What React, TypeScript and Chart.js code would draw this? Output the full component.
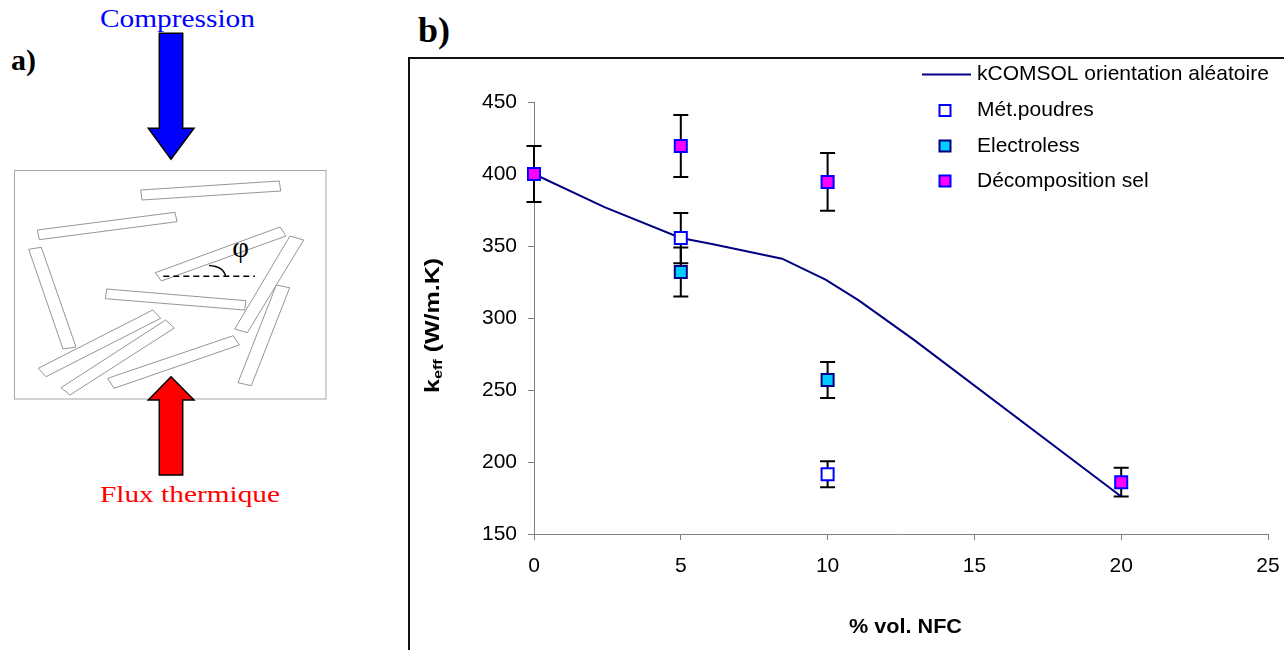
import React, { useEffect, useRef } from "react";
import { Chart, registerables } from "chart.js";

Chart.register(...registerables);

// ---------- Data (part b) ----------
const xTickMin = 0;
const xTickMax = 25;
const xTickStep = 5;
const yTickMin = 150;
const yTickMax = 450;
const yTickStep = 50;

const seriesLabels = [
  "kCOMSOL orientation aléatoire",
  "Mét.poudres",
  "Electroless",
  "Décomposition sel",
];

const comsolX = [0, 2.4, 5, 6.06, 8.45, 9.93, 11.06, 12.93, 20];
const comsolY = [400, 377, 355.6, 351.4, 341.2, 326.6, 312.2, 285, 176];

const poudresX = [5, 10];
const poudresY = [355.5, 191.5];
const poudresErr = [17.5, 9];

const elecX = [5, 10];
const elecY = [332, 257];
const elecErr = [17, 12.5];

const decompX = [0, 5, 10, 20];
const decompY = [400, 419.5, 394.5, 186];
const decompErr = [19.5, 21.5, 20, 10];

const xTitle = "% vol. NFC";

// ---------- Styles ----------
const FF = "'Liberation Sans', Arial, sans-serif";
const NAVY = "#000080";
const BLUE = "#0000FF";
const CYAN = "#00CCFF";
const MAGENTA = "#FF00FF";
const AXIS = "#808080";

const toPts = (xs: number[], ys: number[]) => xs.map((x, i) => ({ x, y: ys[i] }));

// ---------- Plugins ----------
const errorBarPlugin = {
  id: "errorBars",
  beforeDatasetsDraw(chart: any) {
    const { ctx, scales } = chart;
    const xs = scales.x;
    const ys = scales.y;
    ctx.save();
    ctx.strokeStyle = "#000";
    ctx.lineWidth = 2;
    chart.data.datasets.forEach((ds: any) => {
      if (!ds.errors) return;
      ds.data.forEach((p: any, i: number) => {
        const e = ds.errors[i];
        const px = xs.getPixelForValue(p.x);
        const top = ys.getPixelForValue(p.y + e);
        const bot = ys.getPixelForValue(p.y - e);
        ctx.beginPath();
        ctx.moveTo(px, top);
        ctx.lineTo(px, bot);
        ctx.moveTo(px - 7.5, top);
        ctx.lineTo(px + 7.5, top);
        ctx.moveTo(px - 7.5, bot);
        ctx.lineTo(px + 7.5, bot);
        ctx.stroke();
      });
    });
    ctx.restore();
  },
};

const decorPlugin = {
  id: "decor",
  afterDraw(chart: any) {
    const { ctx } = chart;
    const ds = chart.data.datasets;
    ctx.save();
    // ---- Legend ----
    ctx.font = `21px ${FF}`;
    ctx.fillStyle = "#000";
    ctx.textBaseline = "middle";
    ctx.textAlign = "left";
    const textX = 567;
    const rows = [15.5, 51.5, 87, 122];
    ctx.strokeStyle = ds[0].borderColor;
    ctx.lineWidth = 2;
    ctx.beginPath();
    ctx.moveTo(512, rows[0]);
    ctx.lineTo(561, rows[0]);
    ctx.stroke();
    ctx.fillText(ds[0].label, textX, rows[0]);
    for (let i = 1; i < 4; i++) {
      const d = ds[i];
      const cy = rows[i];
      ctx.fillStyle = d.backgroundColor;
      ctx.fillRect(529.5, cy - 5.5, 11, 11);
      ctx.strokeStyle = d.borderColor;
      ctx.lineWidth = 2;
      ctx.strokeRect(529.5, cy - 5.5, 11, 11);
      ctx.fillStyle = "#000";
      ctx.fillText(d.label, textX, cy);
    }

    // ---- Y title: k_eff (W/m.K) ----
    ctx.save();
    ctx.translate(29, 266.5);
    ctx.rotate(-Math.PI / 2);
    const big = `bold 20px ${FF}`;
    const small = `bold 13px ${FF}`;
    ctx.font = big;
    const wk = ctx.measureText("k").width;
    const wr = ctx.measureText(" (W/m.K)").width;
    ctx.font = small;
    const we = ctx.measureText("eff").width;
    const total = wk + we + wr;
    ctx.scale(135 / total, 1);
    let x0 = -total / 2;
    ctx.fillStyle = "#000";
    ctx.textBaseline = "alphabetic";
    ctx.textAlign = "left";
    ctx.font = big;
    ctx.fillText("k", x0, 0);
    x0 += wk;
    ctx.font = small;
    ctx.fillText("eff", x0, 3);
    x0 += we;
    ctx.font = big;
    ctx.fillText(" (W/m.K)", x0, 0);
    ctx.restore();

    // ---- X title ----
    ctx.save();
    ctx.font = `bold 20px ${FF}`;
    const wt = ctx.measureText(xTitle).width;
    ctx.translate(495.5, 574);
    ctx.scale(113 / wt, 1);
    ctx.fillStyle = "#000";
    ctx.textAlign = "center";
    ctx.textBaseline = "alphabetic";
    ctx.fillText(xTitle, 0, 0);
    ctx.restore();

    ctx.restore();
  },
};

// ---------- Schematic (part a) ----------
const fibers: number[][] = [
  [140.7, 190, 279.3, 181, 280.7, 191, 142, 200],
  [37.3, 230, 175, 212.3, 177, 221.7, 39.3, 239.7],
  [28.7, 249.3, 41.3, 247.3, 76, 347, 63, 349],
  [155.3, 272.7, 280, 227, 286, 236, 161.3, 281],
  [106.7, 289, 246, 300.7, 244.7, 310, 105.3, 298.7],
  [290, 236, 303.7, 240, 247.3, 332.7, 234.7, 329],
  [276.3, 285, 289.7, 287.7, 251.3, 385.7, 238, 382.7],
  [38.3, 368.3, 152.7, 310, 160.7, 318.3, 46, 376.7],
  [61, 387.7, 165.7, 320, 174.3, 328, 70, 395],
  [107.7, 378.3, 233.3, 335.7, 239.3, 345, 114, 388.3],
];

const ptsStr = (a: number[]) => {
  const out: string[] = [];
  for (let i = 0; i < a.length; i += 2) out.push(`${a[i]},${a[i + 1]}`);
  return out.join(" ");
};

export default function App() {
  const canvasRef = useRef<HTMLCanvasElement>(null);

  useEffect(() => {
    const canvas = canvasRef.current;
    if (!canvas) return;
    const chart = new Chart(canvas, {
      type: "scatter",
      data: {
        datasets: [
          {
            label: seriesLabels[0],
            data: toPts(comsolX, comsolY),
            showLine: true,
            borderColor: NAVY,
            backgroundColor: NAVY,
            borderWidth: 2,
            pointRadius: 0,
            tension: 0,
            clip: false,
            order: 10,
          } as any,
          {
            label: seriesLabels[1],
            data: toPts(poudresX, poudresY),
            errors: poudresErr,
            pointStyle: "rect",
            pointRadius: 8.5,
            backgroundColor: "#FFFFFF",
            borderColor: BLUE,
            borderWidth: 2,
            clip: false,
            order: 1,
          },
          {
            label: seriesLabels[2],
            data: toPts(elecX, elecY),
            errors: elecErr,
            pointStyle: "rect",
            pointRadius: 8.5,
            backgroundColor: CYAN,
            borderColor: NAVY,
            borderWidth: 2,
            clip: false,
            order: 1,
          },
          {
            label: seriesLabels[3],
            data: toPts(decompX, decompY),
            errors: decompErr,
            pointStyle: "rect",
            pointRadius: 8.5,
            backgroundColor: MAGENTA,
            borderColor: BLUE,
            borderWidth: 2,
            clip: false,
            order: 1,
          },
        ],
      },
      options: {
        animation: false,
        responsive: true,
        maintainAspectRatio: false,
        layout: { padding: { left: 0, right: 16, top: 43, bottom: 0 } },
        plugins: {
          legend: { display: false },
          tooltip: { enabled: false },
          title: { display: false },
        },
        scales: {
          x: {
            type: "linear",
            min: xTickMin,
            max: xTickMax,
            ticks: {
              stepSize: xTickStep,
              color: "#000",
              font: { family: FF, size: 21 },
              padding: 14,
              maxRotation: 0,
            },
            grid: {
              display: true,
              drawOnChartArea: false,
              drawTicks: true,
              tickLength: 6,
              tickColor: AXIS,
              tickWidth: 1,
            },
            border: { display: true, color: AXIS, width: 1 },
            afterFit: (s: any) => {
              s.height = 116;
              s.paddingLeft = 0;
              s.paddingRight = 12;
            },
          },
          y: {
            type: "linear",
            min: yTickMin,
            max: yTickMax,
            ticks: {
              stepSize: yTickStep,
              color: "#000",
              font: { family: FF, size: 21 },
              padding: 11,
            },
            grid: {
              display: true,
              drawOnChartArea: false,
              drawTicks: true,
              tickLength: 6,
              tickColor: AXIS,
              tickWidth: 1,
            },
            border: { display: true, color: AXIS, width: 1 },
            afterFit: (s: any) => {
              s.width = 124;
              s.paddingTop = 0;
              s.paddingBottom = 0;
            },
          },
        },
      } as any,
      plugins: [errorBarPlugin, decorPlugin],
    });
    return () => chart.destroy();
  }, []);

  const serif = "'Liberation Serif', 'Times New Roman', serif";

  return (
    <div
      style={{
        position: "absolute",
        left: 0,
        top: 0,
        width: 1284,
        height: 650,
        overflow: "hidden",
        background: "#fff",
      }}
    >
      <svg
        width={1284}
        height={650}
        style={{ position: "absolute", left: 0, top: 0 }}
      >
        {/* part a */}
        <text x={11} y={70} fontFamily={serif} fontWeight="bold" fontSize={30} textLength={25} lengthAdjust="spacingAndGlyphs" fill="#000">
          a)
        </text>
        <text x={100} y={27} fontFamily={serif} fontSize={25} textLength={155} lengthAdjust="spacingAndGlyphs" fill="#0000FF">
          Compression
        </text>
        <rect x={14.5} y={170.5} width={311.5} height={228.5} fill="#fff" stroke="#a6a6a6" strokeWidth={1} />
        {fibers.map((f, i) => (
          <polygon key={i} points={ptsStr(f)} fill="#fff" stroke="#7a7a7a" strokeWidth={0.8} />
        ))}
        <line x1={163.3} y1={276.3} x2={255} y2={276.3} stroke="#000" strokeWidth={1.5} strokeDasharray="6 4" />
        <path d="M 209 265.5 Q 223.5 266.5 225.5 276" fill="none" stroke="#000" strokeWidth={1.5} />
        <text x={240.5} y={257} fontFamily={serif} fontSize={29} textAnchor="middle" fill="#000">
          φ
        </text>
        <polygon
          points="159.3,33.3 182.7,33.3 182.7,128.3 194,128.3 171,159.3 148.3,128.3 159.3,128.3"
          fill="#0000FF"
          stroke="#000"
          strokeWidth={1.5}
        />
        <polygon
          points="171,376.7 194,400 182.7,400 182.7,475 159.3,475 159.3,400 148.3,400"
          fill="#FF0000"
          stroke="#000"
          strokeWidth={1.5}
        />
        <text x={100} y={501.5} fontFamily={serif} fontSize={24} textLength={180} lengthAdjust="spacingAndGlyphs" fill="#FF0000">
          Flux thermique
        </text>
        {/* part b label */}
        <text x={418} y={41.5} fontFamily={serif} fontWeight="bold" fontSize={36} textLength={32} lengthAdjust="spacingAndGlyphs" fill="#000">
          b)
        </text>
      </svg>
      <div
        style={{
          position: "absolute",
          left: 408,
          top: 57,
          width: 876,
          height: 593,
          borderLeft: "2px solid #111",
          borderTop: "2px solid #111",
          boxSizing: "border-box",
        }}
      />
      <div
        style={{
          position: "absolute",
          left: 410,
          top: 59,
          width: 874,
          height: 591,
        }}
      >
        <canvas ref={canvasRef} />
      </div>
    </div>
  );
}
